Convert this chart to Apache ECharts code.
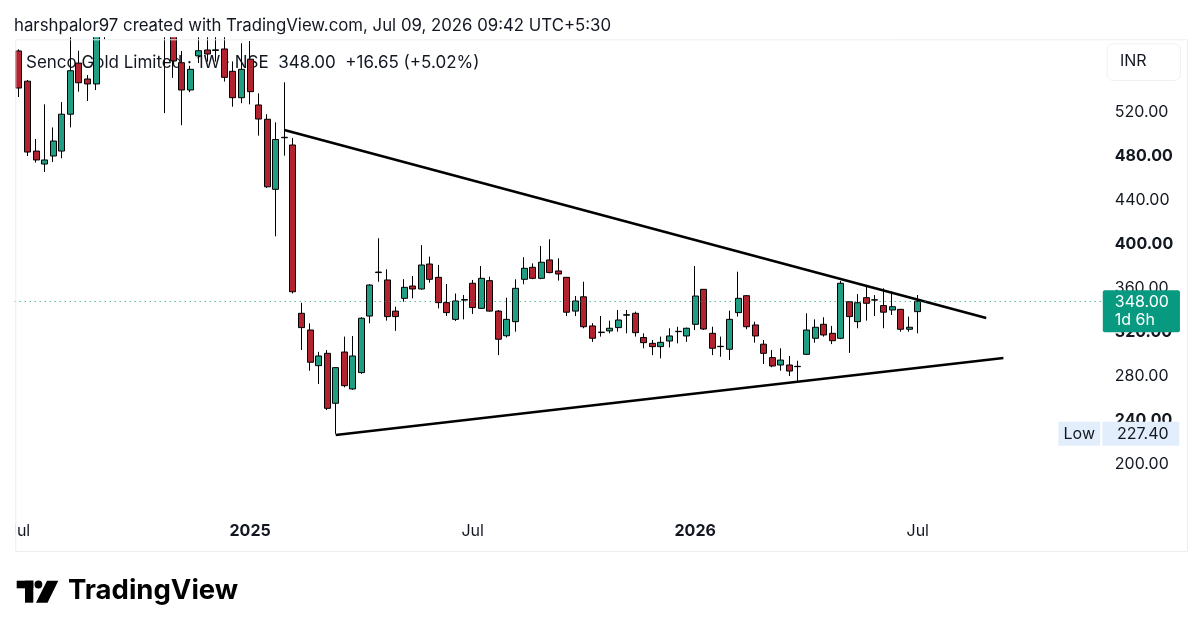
<!DOCTYPE html>
<html>
<head>
<meta charset="utf-8">
<title>Senco Gold Limited · 1W · NSE</title>
<script src="https://cdn.jsdelivr.net/npm/echarts@6/dist/echarts.min.js"></script>
<style>
  html, body { margin: 0; padding: 0; background: #fff; }
  #chart { width: 1200px; height: 635px; }
</style>
</head>
<body>
<div id="chart"></div>
<script>
// weekly bars, the first one is the week of 2024-07-01
const firstWeek = Date.UTC(2024, 6, 1);
const weekCount = 127; // 106 bars + empty weeks on the right
const weeks = [];
for (let i = 0; i < weekCount; i++) {
  weeks.push(new Date(firstWeek + i * 7 * 86400000).toISOString().slice(0, 10));
}

// OHLC (bars above ~587 are cut off in the original)
const opens = [575.5, 548, 484.5, 472.7, 480, 484.5, 518, 564.5, 550, 545.5,
  615, 640, 675, 700, 730, 705, 655, 630, 598, 564.8,
  540, 571, 576.4, 576, 577.3, 557, 533, 568, 526.4, 513.4,
  449.7, 496.6, 490, 337, 321.8, 289.4, 300.6, 255.2, 301.8, 268.2,
  283.1, 334.5, 374, 367.3, 339, 350.6, 361.8, 359.1, 381.8, 369.7,
  346.7, 331.5, 349, 364.3, 341.5, 366.7, 339, 316.6, 329.4, 367.9,
  378.8, 368.8, 385.5, 375.5, 369.7, 339, 352, 325.5, 319.5, 321,
  324, 335.3, 337, 315, 309.7, 306.7, 311.8, 320.3, 316.4, 327,
  358.8, 318.8, 306.7, 304.3, 337.6, 353, 326.4, 308.9, 296.7, 290,
  290, 288.5, 299.7, 314.3, 327, 318.8, 314.3, 347.5, 329.4, 351.2,
  349, 344, 340, 340.6, 322.5, 338.5];
const highs = [577, 549, 495.5, 527, 506, 529, 600, 575.7, 553.6, 625,
  660, 690, 720, 760, 770, 725, 680, 650, 605, 575.5,
  562, 592, 592, 592, 592, 566, 582.5, 584.5, 537, 518,
  510.6, 547, 496.4, 346.6, 327.9, 302, 303.6, 288, 315.8, 316.4,
  333.5, 363.5, 405.2, 377, 343, 368, 370.9, 399, 388.5, 381,
  363.6, 355, 353.6, 367.3, 380, 370.3, 340, 351.2, 367.9, 388,
  382.4, 398.2, 404.3, 387, 370, 352.7, 365.7, 328, 334.5, 330.3,
  340, 340, 338.5, 318.8, 312.7, 315.8, 323.4, 324.8, 324, 380,
  359, 324.8, 315.8, 339.4, 374.8, 353.5, 329.4, 312.7, 303.6, 305.2,
  298.2, 293.9, 337, 331.5, 333.4, 325.5, 366.4, 348, 354.5, 361.8,
  353.6, 359.7, 356.6, 341, 334, 353.6];
const lows = [533.6, 480, 474, 465.5, 474.5, 478, 506, 538.5, 530, 540,
  586, 620, 650, 680, 690, 640, 595, 519, 551, 508,
  538, 564.5, 565.8, 565.8, 547.6, 524.8, 528, 527, 498.5, 451,
  407, 480.3, 355, 303.6, 284.8, 272.7, 249, 227.4, 269.7, 267.5,
  282, 327.9, 365.7, 330.3, 321, 347.5, 350.6, 358.5, 364.8, 341.5,
  334.5, 330, 331.5, 336.4, 341, 338.5, 299, 315, 320.3, 363.4,
  368, 368, 373.4, 366.7, 334.5, 334.5, 323.4, 311, 315.8, 318.8,
  320.3, 318.8, 315.8, 305.2, 299, 296, 306, 309.7, 311, 321.8,
  321.8, 299, 297.5, 294.5, 334, 322.5, 310.3, 290.9, 288, 284.8,
  280, 274.8, 299, 310.3, 315.8, 309, 313.5, 301, 323.4, 330.3,
  334.5, 323.4, 335.5, 320.3, 320.3, 318.8];
const closes = [541.8, 483.6, 476.4, 476.4, 493.6, 518, 557.5, 546.6, 545.5, 610,
  640, 675, 700, 730, 705, 655, 620, 598, 566.4, 540,
  558.8, 575.7, 572.7, 576.5, 551.5, 533, 558.8, 538.5, 513.6, 452,
  495, 497, 356.6, 324, 292.5, 298.2, 250.6, 287.6, 271.2, 298.2,
  332.5, 362.7, 374.5, 334, 334, 360.6, 359.1, 380.9, 367.9, 346.7,
  337.6, 348.2, 349.5, 342.2, 368.8, 339, 313.4, 331.5, 359.7, 377.9,
  368.8, 383.4, 374, 372.7, 338, 348.2, 324.8, 314.3, 319.9, 323.4,
  330.9, 335.7, 319.4, 310.3, 306.7, 310.6, 316.4, 320.6, 323.4, 352.7,
  322.7, 305.2, 307, 331.5, 350.6, 324.8, 316.4, 300.6, 289.1, 294.5,
  284.5, 288.8, 321.8, 324.3, 317.3, 312.1, 364.3, 334, 346.6, 346.1,
  349.3, 338, 343, 322.5, 324.3, 348];

// hand-drawn triangle lines [week, price]
const upperTrend = [['2025-02-03', 503.6], ['2026-08-31', 332.7]];
const lowerTrend = [['2025-03-17', 226.4], ['2026-09-14', 296.4]];

const lastPrice = 348.00;
const lowPrice = 227.40;

const timeTickWeeks = ['2024-07-01', '2025-01-06', '2025-07-07', '2026-01-05', '2026-07-06'];
const timeTickTexts = ['Jul', '2025', 'Jul', '2026', 'Jul'];

const UP = '#1f9e83';
const DOWN = '#b3222f';
const INK = '#131722';
const FONT = 'Inter, "Noto Sans", sans-serif';

const candles = opens.map((o, i) => [o, closes[i], lows[i], highs[i]]);

const myChart = echarts.init(document.getElementById('chart'));

const option = {
  animation: false,
  backgroundColor: '#fff',
  textStyle: { fontFamily: FONT, color: INK },
  title: [
    {
      text: 'harshpalor97 created with TradingView.com, Jul 09, 2026 09:42 UTC+5:30',
      left: 14, top: 17, padding: 0, z: 80,
      textStyle: { fontSize: 16.8, fontWeight: 'normal', color: INK, fontFamily: FONT }
    },
    {
      text: 'Senco Gold Limited · 1W · NSE  348.00  +16.65 (+5.02%)',
      left: 26, top: 54, padding: 0, z: 1,
      textStyle: { fontSize: 17, fontWeight: 'normal', color: INK, fontFamily: FONT }
    }
  ],
  grid: { left: 14.7, right: 98.2, top: 38, bottom: 127 },
  xAxis: {
    type: 'category',
    data: weeks,
    boundaryGap: true,
    axisLine: { show: false },
    axisTick: { show: false },
    splitLine: { show: false },
    axisLabel: {
      margin: 15,
      fontSize: 16,
      color: INK,
      interval: (idx, val) => timeTickWeeks.indexOf(val) !== -1,
      formatter: (val) => {
        const t = timeTickTexts[timeTickWeeks.indexOf(val)];
        return /^\d+$/.test(t) ? '{b|' + t + '}' : t;
      },
      rich: { b: { fontSize: 16, fontWeight: 'bold', color: INK } }
    }
  },
  yAxis: {
    type: 'value',
    position: 'right',
    min: 160,
    max: 587.27,
    interval: 40,
    axisLine: { show: false },
    axisTick: { show: false },
    splitLine: { show: false },
    axisLabel: {
      margin: 13,
      fontSize: 16,
      color: INK,
      showMinLabel: false,
      showMaxLabel: false,
      formatter: (v) => {
        if (v < 190 || v > 540) return '';
        const s = v.toFixed(2);
        return v % 80 === 0 ? '{b|' + s + '}' : s;
      },
      rich: { b: { fontSize: 16, fontWeight: 'bold', color: INK } }
    }
  },
  series: [
    {
      name: 'SENCO',
      type: 'candlestick',
      data: candles,
      barWidth: 6.5,
      clip: true,
      itemStyle: {
        color: UP,
        color0: DOWN,
        borderColor: '#000',
        borderColor0: '#000',
        borderWidth: 1
      },
      z: 3
    },
    {
      name: 'upper',
      type: 'line',
      data: upperTrend,
      symbol: 'none',
      clip: false,
      lineStyle: { color: '#000', width: 2.6 },
      z: 4,
      markLine: {
        silent: true,
        symbol: ['none', 'none'],
        animation: false,
        data: [
          {
            yAxis: lastPrice,
            lineStyle: { type: [1, 4], color: '#089981', width: 1 },
            label: {
              show: true,
              position: 'end',
              distance: 1,
              offset: [0, 10],
              formatter: lastPrice.toFixed(2) + '\n1d 6h',
              color: '#fff',
              fontSize: 16,
              lineHeight: 18,
              fontFamily: FONT,
              backgroundColor: '#089981',
              padding: [3, 11, 3, 12],
              borderRadius: 2
            }
          },
          {
            yAxis: lowPrice,
            lineStyle: { color: 'rgba(255,255,255,0)', width: 1 },
            label: {
              show: true,
              position: 'end',
              distance: -43.5,
              formatter: '{a|Low}{g|}{b|' + lowPrice.toFixed(2) + '}',
              fontFamily: FONT,
              color: INK,
              rich: {
                a: { width: 42, align: 'center', fontSize: 16, lineHeight: 15, color: INK,
                     backgroundColor: '#e3eefc', padding: [4, 0, 4, 0] },
                g: { width: 2 },
                b: { width: 57, align: 'left', fontSize: 16, lineHeight: 15, color: INK,
                     backgroundColor: '#e3eefc', padding: [4, 8, 4, 12] }
              }
            }
          }
        ]
      }
    },
    {
      name: 'lower',
      type: 'line',
      data: lowerTrend,
      symbol: 'none',
      clip: false,
      lineStyle: { color: '#000', width: 2.6 },
      z: 4
    }
  ],
  graphic: [
    // the chart pane cuts bars off at its top edge
    { type: 'rect', left: 0, top: 0, shape: { width: 1200, height: 37.3 }, style: { fill: '#fff' }, z: 50, silent: true },
    // hides the left half of the first "Jul", as the chart edge does
    { type: 'rect', left: 0, top: 515, shape: { width: 15.5, height: 30 }, style: { fill: '#fff' }, z: 50 },
    // outer frame
    { type: 'rect', left: 13.3, top: 37.3, shape: { width: 1171.7, height: 511.7 },
      style: { fill: 'none', stroke: '#eceef2', lineWidth: 1 }, z: 60, silent: true },
    // currency box
    { type: 'rect', left: 1106.7, top: 43.3, shape: { width: 73.3, height: 36.7, r: 6 },
      style: { fill: '#fff', stroke: '#eef0f3', lineWidth: 1 }, z: 60 },
    { type: 'text', left: 1120, top: 53, style: { text: 'INR', fontSize: 16, fill: INK, fontFamily: FONT }, z: 61 },
    // TradingView logo
    { type: 'rect', shape: { x: 16.7, y: 580.7, width: 16.6, height: 7.6 }, style: { fill: '#000' }, z: 60 },
    { type: 'rect', shape: { x: 25, y: 580.7, width: 8.3, height: 22 }, style: { fill: '#000' }, z: 60 },
    { type: 'circle', shape: { cx: 38.4, cy: 584.5, r: 3.9 }, style: { fill: '#000' }, z: 60 },
    { type: 'polygon', shape: { points: [[47, 580.7], [58.3, 580.7], [47.5, 602.7], [36, 602.7]] }, style: { fill: '#000' }, z: 60 },
    { type: 'text', left: 68, top: 577, style: { text: 'TradingView', fontSize: 27.5, fontWeight: 'bold', fill: '#000', fontFamily: FONT }, z: 60 }
  ]
};

myChart.setOption(option);
</script>
</body>
</html>
